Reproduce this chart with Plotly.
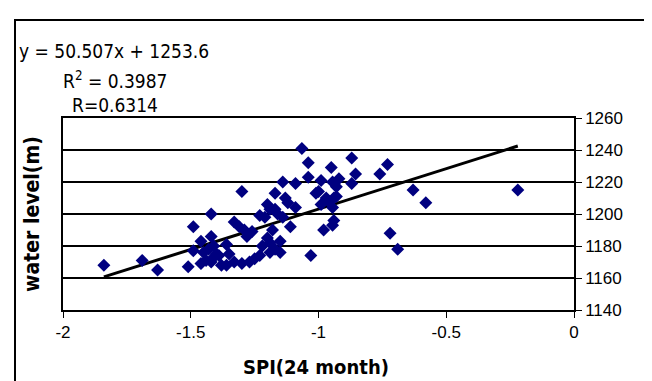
import plotly.graph_objects as go

# Data (SPI 24-month vs water level)
spi = [-1.84, -1.69, -1.63, -1.51, -1.49, -1.49, -1.46, -1.46, -1.44, -1.42,
       -1.42, -1.42, -1.41, -1.41, -1.43, -1.45, -1.40, -1.38, -1.36, -1.36,
       -1.33, -1.33, -1.30, -1.30, -1.29, -1.27, -1.26, -1.25, -1.23, -1.23,
       -1.31, -1.28, -1.39, -1.35, -1.21, -1.20, -1.19, -1.19, -1.19, -1.18,
       -1.17, -1.17, -1.15, -1.15, -1.14, -1.14, -1.12, -1.11, -1.09, -1.09,
       -1.16, -1.13, -1.20, -1.17, -1.22, -1.065, -1.04, -1.04, -1.01, -0.99,
       -0.99, -0.98, -0.95, -0.945, -0.945, -0.94, -0.94, -0.945, -0.97, -0.93,
       -0.93, -0.87, -0.87, -0.855, -1.03, -0.92, -1.00, -0.96, -0.76, -0.73,
       -0.72, -0.69, -0.63, -0.58, -0.22]
level = [1168, 1171, 1165, 1167, 1177, 1192, 1183, 1169, 1171, 1170,
         1186, 1200, 1173, 1180, 1178, 1176, 1175, 1168, 1168, 1181,
         1195, 1170, 1214, 1169, 1190, 1170, 1189, 1172, 1174, 1199,
         1192, 1186, 1174, 1175, 1198, 1206, 1203, 1176, 1182, 1190,
         1213, 1203, 1183, 1176, 1220, 1198, 1207, 1192, 1219, 1204,
         1200, 1210, 1185, 1178, 1180, 1241, 1232, 1223, 1213, 1221,
         1206, 1190, 1229, 1220, 1204, 1210, 1196, 1193, 1210, 1217,
         1211, 1235, 1219, 1225, 1174, 1222, 1214, 1208, 1225, 1231,
         1188, 1178, 1215, 1207, 1215]

slope = 50.507
intercept = 1253.6
x_ticks = [-2, -1.5, -1, -0.5, 0]
x_tick_labels = ["-2", "-1.5", "-1", "-0.5", "0"]
y_ticks = [1140, 1160, 1180, 1200, 1220, 1240, 1260]

W, H = 652, 381
L, R, T, B = 55, 86, 110, 79

trend_x = [min(spi), max(spi)]
trend_y = [slope * v + intercept for v in trend_x]

fig = go.Figure()
fig.add_trace(go.Scatter(x=trend_x, y=trend_y, mode="lines",
                         line=dict(color="black", width=3), showlegend=False,
                         hoverinfo="skip"))
fig.add_trace(go.Scatter(x=spi, y=level, mode="markers",
                         marker=dict(symbol="diamond", size=10, color="#000080",
                                     line=dict(width=0)),
                         showlegend=False))

def px_x(p):
    return (p - L) / (W - L - R)

def px_y(p):
    return 1 - (p - T) / (H - T - B)

TXT = "DejaVu Sans Condensed"

fig.update_layout(
    width=W, height=H,
    margin=dict(l=L, r=R, t=T, b=B),
    paper_bgcolor="white", plot_bgcolor="white",
    font=dict(family="Liberation Sans, Arial", color="black", size=17),
    xaxis=dict(range=[-2, 0], tickvals=x_ticks, ticktext=x_tick_labels,
               showgrid=False, zeroline=False, showline=True, mirror=True,
               linecolor="black", linewidth=1.5, ticks="outside", ticklen=6,
               tickcolor="black", tickfont=dict(size=17)),
    yaxis=dict(range=[1140, 1260], tickvals=y_ticks, side="right",
               showgrid=True, gridcolor="black", gridwidth=2, zeroline=False,
               showline=True, mirror=True, linecolor="black", linewidth=1.5,
               ticks="outside", ticklen=6, tickcolor="black",
               tickfont=dict(size=17)),
    shapes=[dict(type="rect", xref="paper", yref="paper",
                 x0=px_x(7), x1=px_x(646), y0=px_y(390), y1=px_y(12),
                 line=dict(color="black", width=2))],
    annotations=[
        dict(text="y = 50.507x + 1253.6", xref="paper", yref="paper",
             x=px_x(9), y=px_y(43), xanchor="left", yanchor="middle",
             showarrow=False, font=dict(family=TXT, size=19)),
        dict(text="R<sup>2</sup> = 0.3987", xref="paper", yref="paper",
             x=px_x(53), y=px_y(72), xanchor="left", yanchor="middle",
             showarrow=False, font=dict(family=TXT, size=19)),
        dict(text="R=0.6314", xref="paper", yref="paper",
             x=px_x(62), y=px_y(97), xanchor="left", yanchor="middle",
             showarrow=False, font=dict(family=TXT, size=19)),
        dict(text="<b>SPI(24 month)</b>", xref="paper", yref="paper",
             x=px_x(308), y=px_y(359), xanchor="center", yanchor="middle",
             showarrow=False, font=dict(family=TXT, size=20)),
        dict(text="<b>water level(m)</b>", xref="paper", yref="paper",
             x=px_x(24), y=px_y(206), xanchor="center", yanchor="middle",
             textangle=-90, showarrow=False,
             font=dict(family=TXT, size=21)),
    ],
)

fig.write_html("out.html")
